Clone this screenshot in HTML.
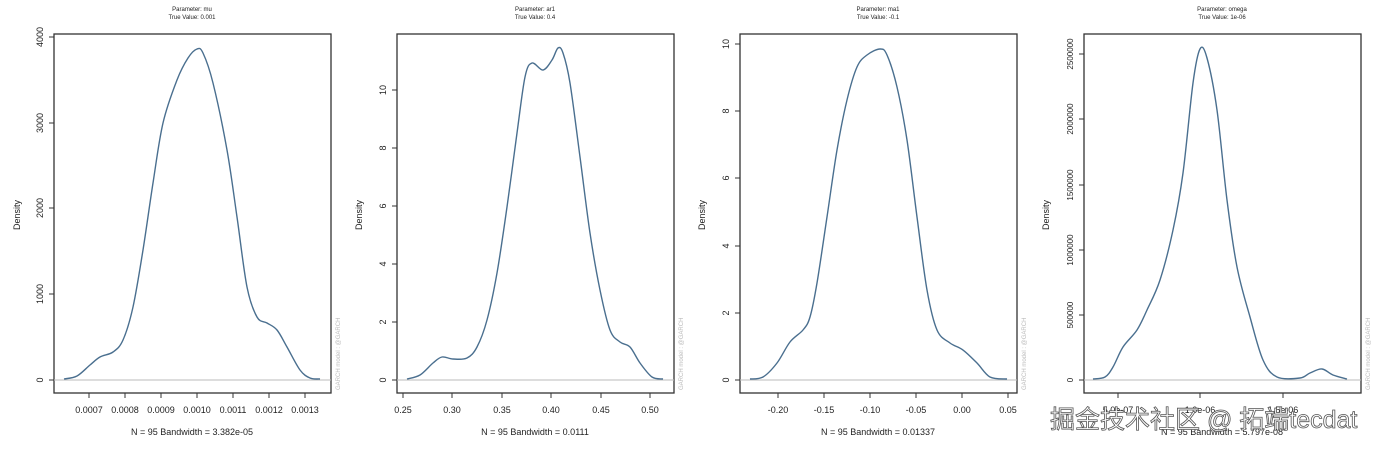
<!DOCTYPE html>
<html><head><meta charset="utf-8"><style>
body{margin:0;background:#fff;width:1382px;height:448px;overflow:hidden}
svg text{font-family:"Liberation Sans",sans-serif;fill:#222}
</style></head><body>
<svg id="s" width="1382" height="448" viewBox="0 0 1382 448" xmlns="http://www.w3.org/2000/svg">
<g font-size="9">
<text x="192" y="11" font-size="6" text-anchor="middle">Parameter: mu</text>
<text x="192" y="19" font-size="6" text-anchor="middle">True Value: 0.001</text>
<rect x="54" y="34" width="277" height="359" fill="none" stroke="#333" stroke-width="1.3"/>
<line x1="54" y1="380" x2="331" y2="380" stroke="#bbb"/>
<g stroke="#333"><line x1="89" y1="393" x2="89" y2="398"/><line x1="125" y1="393" x2="125" y2="398"/><line x1="161" y1="393" x2="161" y2="398"/><line x1="197" y1="393" x2="197" y2="398"/><line x1="233" y1="393" x2="233" y2="398"/><line x1="269" y1="393" x2="269" y2="398"/><line x1="305" y1="393" x2="305" y2="398"/>
<line x1="49" y1="380" x2="54" y2="380"/><line x1="49" y1="294" x2="54" y2="294"/><line x1="49" y1="208" x2="54" y2="208"/><line x1="49" y1="123" x2="54" y2="123"/><line x1="49" y1="37" x2="54" y2="37"/></g>
<g text-anchor="middle"><text x="89" y="413">0.0007</text><text x="125" y="413">0.0008</text><text x="161" y="413">0.0009</text><text x="197" y="413">0.0010</text><text x="233" y="413">0.0011</text><text x="269" y="413">0.0012</text><text x="305" y="413">0.0013</text>
<text x="192" y="435">N = 95   Bandwidth = 3.382e-05</text></g>
<g text-anchor="middle"><text transform="translate(43,380) rotate(-90)">0</text><text transform="translate(43,294) rotate(-90)">1000</text><text transform="translate(43,208) rotate(-90)">2000</text><text transform="translate(43,123) rotate(-90)">3000</text><text transform="translate(43,37) rotate(-90)">4000</text>
<text transform="translate(20,215) rotate(-90)">Density</text></g>
<polyline class="c" fill="none" stroke="#4a6f8f" stroke-width="1.4" stroke-linejoin="round" points="64,379 77,376 90,365 100,357 113,352 123,340 133,307 143,250 153,183 163,123 177,80 188,58 197,49 203,53 213,83 227,150 237,217 247,287 257,317 267,323 277,330 287,347 300,370 310,378 320,379"/>

<text x="535" y="11" font-size="6" text-anchor="middle">Parameter: ar1</text>
<text x="535" y="19" font-size="6" text-anchor="middle">True Value: 0.4</text>
<rect x="397" y="34" width="277" height="359" fill="none" stroke="#333" stroke-width="1.3"/>
<line x1="397" y1="380" x2="674" y2="380" stroke="#bbb"/>
<g stroke="#333"><line x1="403" y1="393" x2="403" y2="398"/><line x1="452" y1="393" x2="452" y2="398"/><line x1="502" y1="393" x2="502" y2="398"/><line x1="551" y1="393" x2="551" y2="398"/><line x1="601" y1="393" x2="601" y2="398"/><line x1="650" y1="393" x2="650" y2="398"/>
<line x1="392" y1="380" x2="397" y2="380"/><line x1="392" y1="322" x2="397" y2="322"/><line x1="392" y1="264" x2="397" y2="264"/><line x1="392" y1="206" x2="397" y2="206"/><line x1="392" y1="148" x2="397" y2="148"/><line x1="392" y1="90" x2="397" y2="90"/></g>
<g text-anchor="middle"><text x="403" y="413">0.25</text><text x="452" y="413">0.30</text><text x="502" y="413">0.35</text><text x="551" y="413">0.40</text><text x="601" y="413">0.45</text><text x="650" y="413">0.50</text>
<text x="535" y="435">N = 95   Bandwidth = 0.0111</text></g>
<g text-anchor="middle"><text transform="translate(386,380) rotate(-90)">0</text><text transform="translate(386,322) rotate(-90)">2</text><text transform="translate(386,264) rotate(-90)">4</text><text transform="translate(386,206) rotate(-90)">6</text><text transform="translate(386,148) rotate(-90)">8</text><text transform="translate(386,90) rotate(-90)">10</text>
<text transform="translate(362,215) rotate(-90)">Density</text></g>
<polyline class="c" fill="none" stroke="#4a6f8f" stroke-width="1.4" stroke-linejoin="round" points="407,379 420,375 433,363 442,357 453,359 467,358 477,347 487,320 497,273 507,207 517,133 525,77 532,63 543,70 552,60 558,48 563,53 570,83 580,157 590,233 600,290 610,330 620,342 630,347 640,363 652,377 663,379"/>

<text x="878" y="11" font-size="6" text-anchor="middle">Parameter: ma1</text>
<text x="878" y="19" font-size="6" text-anchor="middle">True Value: -0.1</text>
<rect x="740" y="34" width="277" height="359" fill="none" stroke="#333" stroke-width="1.3"/>
<line x1="740" y1="380" x2="1017" y2="380" stroke="#bbb"/>
<g stroke="#333"><line x1="778" y1="393" x2="778" y2="398"/><line x1="824" y1="393" x2="824" y2="398"/><line x1="870" y1="393" x2="870" y2="398"/><line x1="916" y1="393" x2="916" y2="398"/><line x1="962" y1="393" x2="962" y2="398"/><line x1="1008" y1="393" x2="1008" y2="398"/>
<line x1="735" y1="380" x2="740" y2="380"/><line x1="735" y1="313" x2="740" y2="313"/><line x1="735" y1="246" x2="740" y2="246"/><line x1="735" y1="178" x2="740" y2="178"/><line x1="735" y1="111" x2="740" y2="111"/><line x1="735" y1="44" x2="740" y2="44"/></g>
<g text-anchor="middle"><text x="778" y="413">-0.20</text><text x="824" y="413">-0.15</text><text x="870" y="413">-0.10</text><text x="916" y="413">-0.05</text><text x="962" y="413">0.00</text><text x="1008" y="413">0.05</text>
<text x="878" y="435">N = 95   Bandwidth = 0.01337</text></g>
<g text-anchor="middle"><text transform="translate(729,380) rotate(-90)">0</text><text transform="translate(729,313) rotate(-90)">2</text><text transform="translate(729,246) rotate(-90)">4</text><text transform="translate(729,178) rotate(-90)">6</text><text transform="translate(729,111) rotate(-90)">8</text><text transform="translate(729,44) rotate(-90)">10</text>
<text transform="translate(705,215) rotate(-90)">Density</text></g>
<polyline class="c" fill="none" stroke="#4a6f8f" stroke-width="1.4" stroke-linejoin="round" points="750,379 763,377 777,363 790,342 803,330 810,317 817,283 827,217 837,150 847,100 857,67 867,55 880,49 887,55 897,87 907,140 917,217 927,290 937,330 950,343 963,350 977,363 990,377 1007,379"/>

<text x="1222" y="11" font-size="6" text-anchor="middle">Parameter: omega</text>
<text x="1222" y="19" font-size="6" text-anchor="middle">True Value: 1e-06</text>
<rect x="1084" y="34" width="277" height="359" fill="none" stroke="#333" stroke-width="1.3"/>
<line x1="1084" y1="380" x2="1361" y2="380" stroke="#bbb"/>
<g stroke="#333"><line x1="1118" y1="393" x2="1118" y2="398"/><line x1="1200" y1="393" x2="1200" y2="398"/><line x1="1283" y1="393" x2="1283" y2="398"/>
<line x1="1079" y1="380" x2="1084" y2="380"/><line x1="1079" y1="315" x2="1084" y2="315"/><line x1="1079" y1="250" x2="1084" y2="250"/><line x1="1079" y1="185" x2="1084" y2="185"/><line x1="1079" y1="119" x2="1084" y2="119"/><line x1="1079" y1="54" x2="1084" y2="54"/></g>
<g text-anchor="middle"><text x="1118" y="413">5.0e-07</text><text x="1200" y="413">1.0e-06</text><text x="1283" y="413">1.5e-06</text>
<text x="1222" y="435">N = 95   Bandwidth = 5.797e-08</text></g>
<g text-anchor="middle" font-size="8"><text transform="translate(1073,380) rotate(-90)">0</text><text transform="translate(1073,315) rotate(-90)">500000</text><text transform="translate(1073,250) rotate(-90)">1000000</text><text transform="translate(1073,185) rotate(-90)">1500000</text><text transform="translate(1073,119) rotate(-90)">2000000</text><text transform="translate(1073,54) rotate(-90)">2500000</text></g>
<text transform="translate(1049,215) rotate(-90)" text-anchor="middle">Density</text>
<polyline class="c" fill="none" stroke="#4a6f8f" stroke-width="1.4" stroke-linejoin="round" points="1093,379 1105,377 1113,367 1123,347 1137,330 1147,310 1160,280 1173,230 1183,173 1193,83 1200,49 1207,58 1217,110 1227,200 1237,267 1250,317 1263,360 1277,377 1300,378 1310,373 1322,369 1333,375 1347,379"/>
</g>
<g font-size="6">
<text transform="translate(340,390) rotate(-90)" style="fill:#bbb">GARCH model : @GARCH</text>
<text transform="translate(683,390) rotate(-90)" style="fill:#bbb">GARCH model : @GARCH</text>
<text transform="translate(1026,390) rotate(-90)" style="fill:#bbb">GARCH model : @GARCH</text>
<text transform="translate(1370,390) rotate(-90)" style="fill:#bbb">GARCH model : @GARCH</text>
</g>
<text x="1050" y="428" font-size="25" style="font-family:'Liberation Sans','Noto Sans CJK SC',sans-serif;fill:#fff;stroke:#555;stroke-width:0.8">掘金技术社区 @ 拓端tecdat</text>
</svg>
<script>
document.querySelectorAll('polyline.c').forEach(function(pl){
  var p=pl.getAttribute('points').trim().split(/\s+/).map(function(s){return s.split(',').map(Number);});
  var d='M'+p[0][0]+','+p[0][1];
  for(var i=0;i<p.length-1;i++){
    var p0=p[i-1]||p[i],p1=p[i],p2=p[i+1],p3=p[i+2]||p2;
    var c1x=p1[0]+(p2[0]-p0[0])/6,c1y=p1[1]+(p2[1]-p0[1])/6;
    var c2x=p2[0]-(p3[0]-p1[0])/6,c2y=p2[1]-(p3[1]-p1[1])/6;
    d+=' C'+c1x+','+c1y+' '+c2x+','+c2y+' '+p2[0]+','+p2[1];
  }
  var path=document.createElementNS('http://www.w3.org/2000/svg','path');
  path.setAttribute('d',d);path.setAttribute('fill','none');path.setAttribute('stroke','#4a6f8f');path.setAttribute('stroke-width','1.4');
  pl.parentNode.replaceChild(path,pl);
});
</script>
</body></html>
